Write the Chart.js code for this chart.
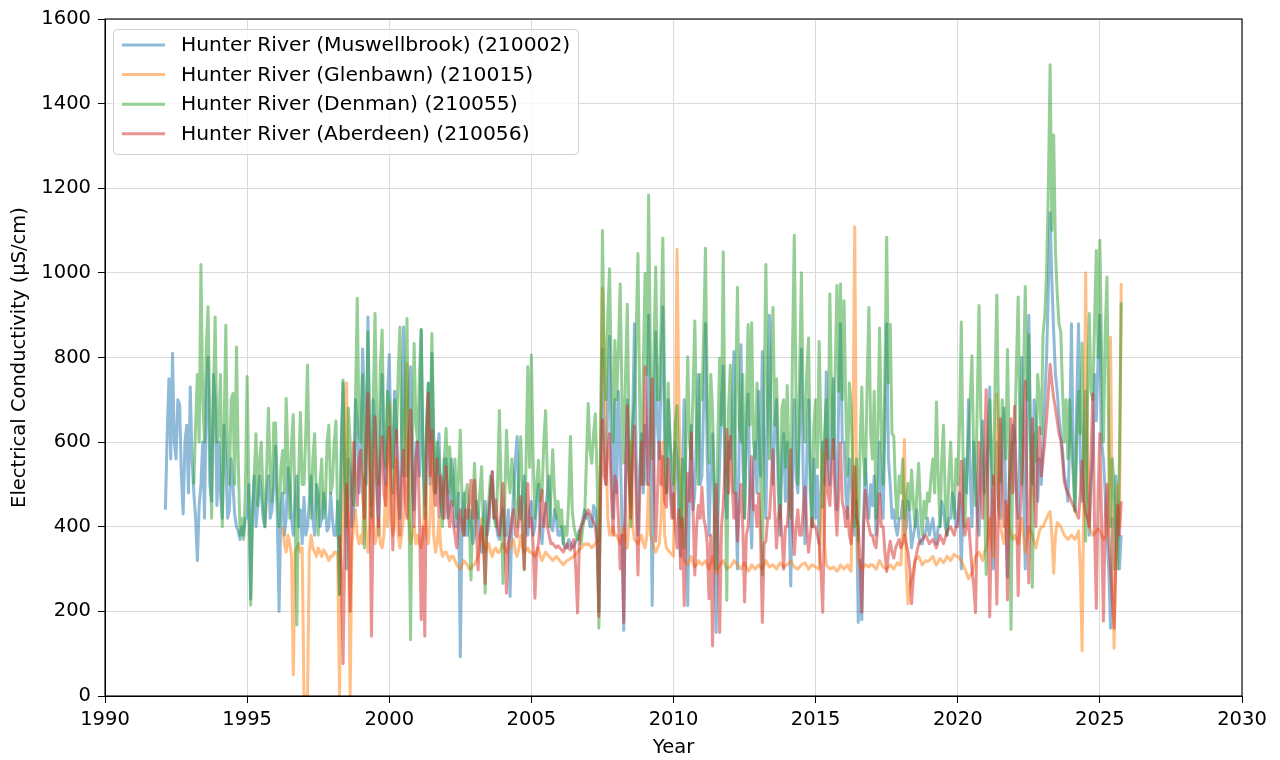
<!DOCTYPE html>
<html>
<head>
<meta charset="utf-8">
<script src="https://cdn.jsdelivr.net/npm/chart.js@4.4.1/dist/chart.umd.min.js"></script>
<style>
  html, body { margin: 0; background: #fff; }
  #wrap { width: 1280px; height: 760px; }
</style>
</head>
<body>
<div id="wrap"><canvas id="chart" width="1280" height="760"></canvas></div>
<script>
// --- data (16 samples per year) ---
const step = 0.0625;
const xTicks = [1990, 1995, 2000, 2005, 2010, 2015, 2020, 2025, 2030];
const yTicks = [0, 200, 400, 600, 800, 1000, 1200, 1400, 1600];

const seriesNames = [
  'Hunter River (Muswellbrook) (210002)',
  'Hunter River (Glenbawn) (210015)',
  'Hunter River (Denman) (210055)',
  'Hunter River (Aberdeen) (210056)'
];

const muswellbrookStart = 1992.125;
const muswellbrook = [
  440, 620, 750, 560, 810, 600, 560, 700, 690, 520, 430, 600, 640, 480,                   // 1992
  730, 560, 480, 420, 320, 450, 500, 600, 420, 700, 800, 500, 460, 760, 700, 450,         // 1993
  600, 480, 420, 640, 560, 420, 440, 560, 500, 430, 400, 390, 370, 400, 380, 420,         // 1994
  420, 500, 230, 440, 520, 400, 450, 520, 480, 420, 400, 480, 520, 420, 440, 500,         // 1995
  590, 420, 200, 450, 480, 380, 420, 540, 500, 420, 380, 460, 520, 400, 440, 360,         // 1996
  470, 380, 400, 460, 520, 420, 380, 500, 480, 400, 420, 480, 450, 390, 400, 480,         // 1997
  420, 380, 380, 460, 240, 600, 740, 480, 300, 560, 520, 400, 420, 700, 650, 480,         // 1998
  560, 820, 700, 500, 896, 600, 450, 700, 640, 480, 380, 620, 760, 560, 500, 700,         // 1999
  807, 600, 540, 720, 650, 480, 420, 640, 872, 600, 520, 720, 778, 500, 440, 600,         // 2000
  600, 520, 865, 560, 450, 640, 739, 500, 810, 600, 480, 560, 620, 460, 420, 560,         // 2001
  560, 420, 450, 560, 520, 400, 400, 480, 93, 420, 480, 380, 380, 440, 420, 360,          // 2002
  380, 460, 430, 380, 340, 420, 460, 380, 400, 480, 530, 420, 420, 380, 370, 420,         // 2003
  440, 380, 380, 440, 235, 400, 480, 560, 613, 440, 420, 480, 520, 400, 380, 440,         // 2004
  460, 380, 400, 460, 500, 400, 360, 420, 440, 480, 520, 400, 390, 440, 420, 380,         // 2005
  380, 400, 360, 350, 350, 370, 360, 350, 355, 365, 370, 390, 400, 420, 440, 420,         // 2006
  430, 400, 400, 450, 440, 380, 200, 560, 820, 600, 500, 700, 850, 560, 420, 700,         // 2007
  480, 720, 600, 400, 155, 520, 700, 500, 450, 640, 880, 560, 380, 540, 620, 480,         // 2008
  640, 500, 900, 600, 214, 560, 860, 640, 560, 760, 920, 600, 480, 700, 620, 460,         // 2009
  420, 600, 560, 420, 330, 520, 700, 480, 214, 500, 640, 440, 480, 620, 760, 500,         // 2010
  520, 700, 880, 560, 380, 540, 620, 420, 150, 420, 560, 700, 780, 520, 420, 600,         // 2011
  560, 660, 814, 500, 300, 600, 830, 560, 420, 620, 714, 480, 350, 540, 600, 480,         // 2012
  720, 520, 814, 600, 420, 700, 900, 620, 500, 640, 700, 480, 380, 560, 620, 460,         // 2013
  600, 440, 260, 520, 700, 520, 480, 640, 820, 520, 360, 560, 700, 480, 400, 560,         // 2014
  420, 520, 360, 480, 600, 500, 766, 560, 500, 640, 750, 520, 440, 700, 880, 600,         // 2015
  600, 480, 420, 560, 520, 420, 380, 460, 174, 320, 180, 420, 560, 460, 420, 500,         // 2016
  450, 520, 380, 460, 600, 480, 420, 640, 880, 560, 500, 420, 440, 400, 380, 420,         // 2017
  420, 460, 380, 400, 460, 420, 350, 380, 400, 440, 380, 360, 360, 380, 390, 420,         // 2018
  380, 400, 420, 380, 360, 400, 400, 460, 440, 400, 380, 420, 420, 480, 460, 400,         // 2019
  420, 480, 300, 460, 560, 480, 700, 520, 400, 600, 520, 420, 380, 560, 650, 480,         // 2020
  520, 600, 730, 480, 300, 500, 600, 440, 420, 580, 680, 460, 280, 500, 560, 640,         // 2021
  620, 480, 420, 600, 800, 520, 300, 640, 900, 600, 500, 700, 650, 460, 560, 500,         // 2022
  600, 700, 800, 960, 1142, 980, 860, 760, 720, 660, 620, 580, 520, 500, 460, 600,        // 2023
  880, 560, 440, 700, 880, 560, 460, 620, 720, 480, 380, 500, 560, 760, 650, 800,         // 2024
  900, 600, 560, 480, 380, 300, 160, 420, 300, 520, 450, 300, 380                         // 2025
];

const glenbawnStart = 1996.25;
const glenbawn = [
  400, 360, 340, 380, 360, 330, 50, 340, 350, 360, 340, 350,                              // 1996
  0, 0, 0, 340, 380, 350, 340, 330, 350, 340, 330, 345, 340, 330, 320, 330,               // 1997
  330, 340, 340, 330, 0, 360, 420, 600, 740, 400, 0, 360, 400, 440, 380, 360,             // 1998
  380, 360, 520, 380, 340, 400, 600, 420, 360, 380, 420, 360, 350, 380, 500, 400,         // 1999
  691, 420, 380, 400, 560, 380, 350, 380, 420, 600, 786, 420, 360, 380, 400, 360,         // 2000
  380, 360, 350, 380, 500, 380, 360, 420, 600, 380, 340, 360, 420, 350, 330, 340,         // 2001
  340, 330, 320, 330, 330, 320, 310, 305, 300, 310, 320, 315, 310, 300, 300, 310,         // 2002
  310, 320, 330, 360, 420, 360, 340, 350, 360, 340, 330, 345, 350, 340, 340, 350,         // 2003
  360, 350, 340, 345, 350, 365, 370, 340, 330, 350, 380, 350, 340, 345, 350, 340,         // 2004
  340, 335, 330, 340, 350, 330, 320, 330, 340, 335, 330, 325, 320, 325, 330, 325,         // 2005
  320, 315, 310, 315, 320, 322, 325, 328, 330, 335, 340, 345, 350, 355, 360, 358,         // 2006
  360, 355, 350, 355, 360, 365, 370, 600, 963, 800, 600, 420, 380, 390, 400, 380,         // 2007
  380, 370, 360, 380, 400, 370, 350, 420, 600, 400, 370, 365, 360, 370, 380, 360,         // 2008
  350, 380, 500, 380, 370, 350, 340, 350, 360, 420, 600, 380, 350, 345, 340, 335,         // 2009
  330, 600, 1056, 700, 500, 360, 320, 315, 310, 320, 330, 315, 305, 310, 320, 315,        // 2010
  310, 315, 320, 310, 300, 315, 330, 310, 290, 300, 310, 315, 320, 310, 300, 305,         // 2011
  305, 312, 320, 315, 310, 305, 300, 308, 315, 305, 295, 300, 310, 305, 300, 305,         // 2012
  310, 305, 300, 310, 320, 312, 305, 308, 310, 305, 300, 308, 315, 310, 305, 308,         // 2013
  310, 315, 320, 312, 305, 302, 300, 305, 310, 312, 315, 308, 300, 305, 310, 308,         // 2014
  305, 302, 300, 420, 578, 360, 310, 305, 300, 302, 305, 300, 295, 300, 310, 305,         // 2015
  300, 305, 310, 300, 295, 600, 1109, 500, 320, 310, 300, 305, 310, 308, 305, 310,        // 2016
  310, 305, 300, 310, 320, 312, 305, 302, 300, 305, 310, 305, 300, 308, 315, 310,         // 2017
  310, 400, 606, 300, 218, 260, 280, 300, 320, 325, 330, 320, 310, 315, 320, 318,         // 2018
  320, 325, 330, 318, 310, 318, 325, 320, 315, 322, 330, 325, 320, 328, 335, 330,         // 2019
  330, 325, 320, 310, 300, 290, 277, 285, 290, 310, 330, 335, 340, 330, 320, 340,         // 2020
  350, 380, 420, 360, 330, 480, 714, 500, 400, 380, 360, 400, 450, 400, 380, 370,         // 2021
  380, 370, 360, 390, 420, 380, 340, 370, 400, 390, 380, 365, 350, 370, 390, 400,         // 2022
  400, 410, 420, 430, 436, 380, 290, 380, 410, 405, 400, 390, 380, 375, 370, 375,         // 2023
  380, 375, 370, 380, 390, 300, 107, 500, 1000, 600, 400, 390, 380, 385, 390, 395,        // 2024
  390, 380, 370, 375, 380, 500, 848, 400, 113, 350, 500, 400, 976                         // 2025
];

const denmanStart = 1993.125;
const denman = [
  500, 640, 760, 600, 1020, 700, 600, 820, 920, 640, 420, 700, 896, 600,                  // 1993
  620, 760, 400, 620, 876, 560, 500, 700, 715, 500, 825, 560, 380, 420, 370, 480,         // 1994
  755, 480, 215, 420, 520, 620, 450, 560, 600, 460, 400, 540, 680, 520, 460, 645,         // 1995
  645, 480, 400, 540, 580, 480, 703, 560, 420, 600, 665, 440, 168, 520, 670, 500,         // 1996
  500, 620, 782, 520, 420, 560, 620, 460, 380, 500, 560, 420, 450, 600, 640, 480,         // 1997
  500, 600, 650, 420, 240, 560, 747, 520, 400, 680, 600, 480, 450, 700, 940, 620,         // 1998
  600, 760, 350, 560, 860, 620, 424, 700, 904, 640, 500, 780, 865, 600, 540, 720,         // 1999
  690, 560, 480, 700, 600, 760, 872, 620, 520, 740, 892, 480, 133, 600, 833, 640,         // 2000
  600, 760, 867, 560, 420, 640, 740, 600, 857, 620, 480, 600, 560, 460, 400, 560,         // 2001
  632, 480, 589, 500, 450, 560, 420, 520, 628, 460, 380, 480, 500, 420, 274, 450,         // 2002
  550, 440, 420, 480, 542, 400, 243, 420, 460, 520, 500, 420, 400, 500, 675, 480,         // 2003
  266, 460, 628, 520, 480, 560, 520, 440, 400, 520, 613, 460, 298, 560, 778, 540,         // 2004
  806, 560, 420, 500, 557, 460, 480, 600, 675, 520, 400, 480, 582, 480, 420, 460,         // 2005
  400, 440, 360, 400, 380, 460, 613, 440, 400, 380, 370, 390, 360, 400, 420, 560,         // 2006
  691, 580, 550, 620, 667, 520, 160, 600, 1100, 800, 700, 900, 1010, 760, 600, 840,       // 2007
  700, 820, 974, 700, 550, 760, 926, 620, 400, 640, 700, 860, 1046, 680, 500, 780,        // 2008
  998, 760, 1184, 800, 560, 820, 1014, 700, 700, 880, 1082, 720, 480, 740, 600, 560,      // 2009
  500, 640, 686, 520, 400, 560, 350, 600, 802, 600, 560, 720, 886, 620, 500, 760,         // 2010
  700, 860, 1058, 700, 550, 760, 670, 500, 300, 620, 798, 640, 1050, 600, 226, 680,       // 2011
  782, 620, 480, 720, 966, 640, 600, 760, 420, 680, 878, 640, 882, 600, 560, 740,         // 2012
  640, 520, 286, 720, 1020, 700, 560, 800, 918, 640, 750, 560, 420, 680, 700, 540,        // 2013
  734, 560, 420, 820, 1089, 700, 500, 760, 1000, 680, 600, 760, 846, 560, 400, 640,       // 2014
  700, 540, 838, 620, 446, 620, 700, 560, 950, 700, 560, 760, 970, 720, 974, 700,         // 2015
  934, 680, 520, 740, 686, 520, 400, 560, 366, 580, 730, 560, 500, 740, 918, 620,         // 2016
  560, 720, 420, 620, 870, 620, 500, 760, 1084, 740, 878, 620, 614, 480, 420, 520,        // 2017
  480, 560, 420, 460, 502, 440, 534, 460, 400, 480, 550, 440, 380, 460, 420, 480,         // 2018
  460, 520, 560, 480, 695, 520, 400, 560, 640, 460, 380, 520, 600, 480, 420, 560,         // 2019
  500, 640, 884, 560, 400, 520, 600, 700, 804, 560, 450, 700, 923, 660, 550, 480,         // 2020
  287, 560, 700, 560, 500, 740, 948, 640, 505, 700, 650, 560, 819, 560, 157, 600,         // 2021
  600, 780, 943, 640, 500, 760, 968, 700, 854, 560, 257, 620, 555, 760, 700, 620,         // 2022
  854, 900, 1000, 1200, 1492, 1100, 1326, 1050, 950, 880, 860, 720, 600, 700, 560, 700,   // 2023
  600, 520, 436, 600, 720, 620, 834, 560, 366, 700, 904, 720, 700, 880, 1053, 800,        // 2024
  1077, 800, 600, 860, 990, 600, 400, 560, 500, 380, 300, 560, 930                        // 2025
];

const aberdeenStart = 1998.25;
const aberdeen = [
  380, 300, 76, 360, 500, 420, 200, 480, 600, 520, 450, 560,                              // 1998
  581, 480, 420, 600, 715, 520, 141, 460, 660, 520, 400, 560, 613, 480, 450, 580,         // 1999
  636, 500, 345, 520, 628, 480, 380, 520, 581, 460, 420, 600, 676, 520, 400, 560,         // 2000
  600, 420, 180, 400, 141, 560, 715, 520, 628, 500, 450, 560, 424, 520, 500, 420,         // 2001
  542, 440, 400, 460, 408, 380, 350, 420, 440, 400, 380, 440, 420, 460, 510, 420,         // 2002
  510, 400, 298, 380, 400, 360, 266, 400, 420, 480, 530, 420, 463, 400, 380, 440,         // 2003
  502, 380, 243, 360, 380, 420, 440, 380, 376, 420, 471, 380, 300, 420, 502, 400,         // 2004
  420, 360, 231, 340, 360, 420, 487, 400, 455, 400, 380, 360, 361, 355, 350, 355,         // 2005
  350, 345, 340, 350, 360, 350, 345, 360, 370, 300, 196, 360, 400, 410, 424, 430,         // 2006
  440, 430, 420, 410, 400, 360, 188, 480, 652, 520, 500, 580, 620, 480, 380, 520,         // 2007
  500, 420, 300, 380, 174, 500, 686, 520, 420, 560, 638, 460, 286, 480, 600, 500,         // 2008
  778, 600, 500, 640, 750, 520, 366, 480, 600, 500, 566, 460, 446, 560, 500, 420,         // 2009
  478, 400, 350, 440, 300, 420, 214, 400, 526, 460, 622, 440, 286, 400, 450, 420,         // 2010
  494, 420, 400, 360, 230, 380, 118, 420, 500, 380, 150, 400, 450, 540, 630, 480,         // 2011
  614, 500, 420, 480, 366, 440, 500, 400, 222, 380, 400, 480, 566, 440, 450, 400,         // 2012
  478, 380, 174, 360, 366, 420, 420, 500, 582, 440, 350, 420, 450, 380, 300, 400,         // 2013
  400, 460, 582, 400, 334, 400, 440, 380, 380, 440, 494, 400, 340, 380, 420, 400,         // 2014
  400, 380, 360, 300, 198, 420, 606, 480, 450, 540, 606, 460, 380, 480, 598, 460,         // 2015
  440, 400, 446, 380, 360, 460, 542, 420, 400, 320, 198, 400, 486, 420, 400, 380,         // 2016
  380, 360, 350, 400, 478, 400, 400, 340, 294, 340, 366, 340, 326, 350, 360, 370,         // 2017
  350, 360, 380, 360, 340, 300, 218, 280, 320, 340, 360, 365, 370, 375, 380, 370,         // 2018
  360, 365, 370, 360, 350, 365, 380, 370, 360, 375, 390, 395, 400, 390, 380, 400,         // 2019
  400, 460, 555, 420, 380, 400, 420, 360, 300, 260, 197, 420, 600, 480, 420, 560,         // 2020
  724, 460, 187, 420, 520, 400, 217, 480, 655, 520, 400, 460, 227, 500, 655, 480,         // 2021
  685, 480, 237, 420, 500, 600, 744, 480, 267, 500, 655, 480, 400, 560, 635, 520,         // 2022
  560, 600, 655, 720, 784, 740, 705, 680, 650, 620, 605, 560, 505, 490, 480, 470,         // 2023
  460, 450, 440, 430, 420, 480, 555, 460, 430, 420, 400, 560, 714, 400, 207, 480,         // 2024
  620, 400, 177, 420, 500, 380, 300, 220, 160, 320, 450, 380, 460                         // 2025
];

const colors = [
  'rgba(31,119,180,0.5)',
  'rgba(255,127,14,0.5)',
  'rgba(44,160,44,0.5)',
  'rgba(214,39,40,0.5)'
];

function toPoints(start, vals){
  return vals.map((v, i) => ({ x: start + i * step, y: v }));
}

// --- chart ---
Chart.defaults.font.family = '"DejaVu Sans", sans-serif';
Chart.defaults.font.size = 19.5;
Chart.defaults.color = '#000';

// black box round the plot, like matplotlib spines
const framePlugin = {
  id: 'frame',
  afterDatasetsDraw(chart){
    const { ctx, chartArea: a } = chart;
    ctx.save();
    ctx.strokeStyle = '#000';
    ctx.lineWidth = 1.1;
    ctx.strokeRect(a.left, a.top, a.right - a.left, a.bottom - a.top);
    ctx.restore();
  }
};

// legend box in upper left of the plot
const boxLegend = {
  id: 'boxLegend',
  afterDraw(chart){
    const { ctx, chartArea: a } = chart;
    const x0 = a.left + 8, y0 = a.top + 10;
    const w = 465, h = 125, r = 4;
    ctx.save();
    ctx.beginPath();
    ctx.roundRect(x0 + 0.5, y0 + 0.5, w, h, r);
    ctx.fillStyle = 'rgba(255,255,255,0.8)';
    ctx.fill();
    ctx.strokeStyle = '#d0d0d0';
    ctx.lineWidth = 1;
    ctx.stroke();
    ctx.font = '20.3px "DejaVu Sans"';
    ctx.textBaseline = 'middle';
    chart.data.datasets.forEach((ds, i) => {
      const y = y0 + 16 + i * 29.6;
      ctx.beginPath();
      ctx.moveTo(x0 + 9, y);
      ctx.lineTo(x0 + 52, y);
      ctx.strokeStyle = ds.borderColor;
      ctx.lineWidth = 3;
      ctx.stroke();
      ctx.fillStyle = '#000';
      ctx.fillText(ds.label, x0 + 68, y + 1);
    });
    ctx.restore();
  }
};

const starts = [muswellbrookStart, glenbawnStart, denmanStart, aberdeenStart];
const values = [muswellbrook, glenbawn, denman, aberdeen];

new Chart(document.getElementById('chart'), {
  type: 'line',
  data: {
    datasets: seriesNames.map((name, i) => ({
      label: name,
      data: toPoints(starts[i], values[i]),
      borderColor: colors[i],
      backgroundColor: colors[i],
      borderWidth: 3,
      borderJoinStyle: 'round',
      pointRadius: 0,
      tension: 0,
      fill: false,
      order: 3 - i   // later series on top, as in the reference
    }))
  },
  options: {
    responsive: false,
    animation: false,
    devicePixelRatio: 1,
    layout: { padding: { left: 0, top: 19, right: 38, bottom: 0 } },
    plugins: { legend: { display: false }, tooltip: { enabled: false } },
    scales: {
      x: {
        type: 'linear',
        min: xTicks[0], max: xTicks[xTicks.length - 1],
        afterBuildTicks: s => { s.ticks = xTicks.map(v => ({ value: v })); },
        afterFit: s => { s.height = 64; },
        ticks: { callback: v => String(v), padding: 5, maxRotation: 0 },
        grid: { color: '#dadada', lineWidth: 1, tickLength: 7, tickColor: '#000' },
        border: { color: '#000', width: 1 },
        title: { display: true, text: 'Year', padding: { top: 0, bottom: 0 } }
      },
      y: {
        min: yTicks[0], max: yTicks[yTicks.length - 1],
        afterBuildTicks: s => { s.ticks = yTicks.map(v => ({ value: v })); },
        afterFit: s => { s.width = 105; },
        ticks: { callback: v => String(v), padding: 7 },
        grid: { color: '#dadada', lineWidth: 1, tickLength: 7, tickColor: '#000' },
        border: { color: '#000', width: 1 },
        title: { display: true, text: 'Electrical Conductivity (µS/cm)', padding: { top: 8, bottom: 0 } }
      }
    }
  },
  plugins: [framePlugin, boxLegend]
});
</script>
</body>
</html>
